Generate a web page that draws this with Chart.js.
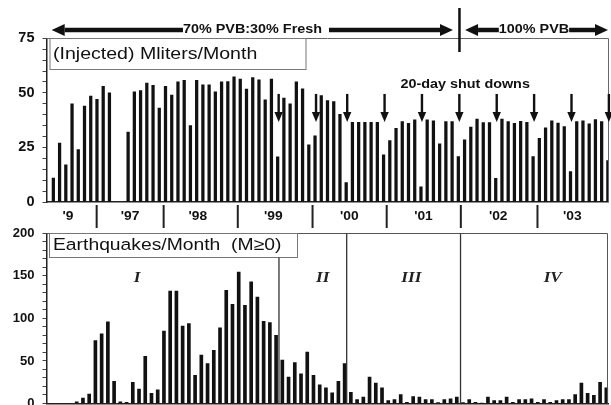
<!DOCTYPE html>
<html><head><meta charset="utf-8">
<script src="https://cdn.jsdelivr.net/npm/chart.js@4.4.0/dist/chart.umd.min.js"></script>
<style>
html,body{margin:0;padding:0;background:#fff;width:611px;height:405px;overflow:hidden;position:relative}
#top{position:absolute;left:0;top:0}
#bot{position:absolute;left:0;top:205px}
</style></head><body>
<canvas id="top" width="611" height="232"></canvas>
<canvas id="bot" width="611" height="215"></canvas>
<script>
// ---- categories: month number since start of record ----
const monthIndex = [1,2,3,4,5,6,7,8,9,10,11,12,13,14,15,16,17,18,19,20,21,22,23,24,25,26,27,28,29,30,
  31,32,33,34,35,36,37,38,39,40,41,42,43,44,45,46,47,48,49,50,51,52,53,54,55,56,57,58,59,60,
  61,62,63,64,65,66,67,68,69,70,71,72,73,74,75,76,77,78,79,80,81,82,83,84,85,86,87,88,89,90];

// ---- series: injected volume (Mliters / month) ----
const injected = [11,27,17,45,24,44,48.5,47,53,50,null,null,32,50.5,51,54.5,53.5,43,53,49,
  55,55.7,35,55.7,53.7,53.7,50.5,55,55.2,57.4,56.3,51.7,57,56,46.8,56.3,20.7,47.6,45,55,
  51.8,26.2,30.3,48.8,46.5,46,40.2,8.9,36.5,36.5,36.5,36.5,36.5,21.6,28.1,33.8,36.9,36.1,37.6,7,
  37.6,37.2,26.6,36.9,36.9,20.8,28.5,34.3,38,36.4,36.4,10.9,38,36.9,36.1,37,36.5,20.8,29.2,34,
  37.2,36.2,34.6,13.9,36.9,37.2,35.8,37.8,36.9,19];

// ---- series: earthquakes per month (M>=0) ----
const quakes = [0,0,0,0,2,6.5,11,74,82,96,26,2,1.5,25,17,55.5,12,16,85,132,
  132,91,94,33,57,47,62.5,89,133,116.5,154.5,115.5,143,125,96.5,95,80,51,31,48,
  35,60.5,33,22,18.5,12.5,26,47,13,4.5,7.5,31,24,18.5,3.5,4.5,10.5,1.5,8,7.5,
  4.5,4.5,1,4.5,5.5,7.5,1,4.5,1.5,0.5,7.5,3.5,3.5,7.5,1.5,4.5,4.5,5.5,1.5,4.5,
  1.5,3.5,4.5,4.5,10.5,24,12,9.5,25,18.5];

// ---- annotations (month units) ----
const shutdownMonths = [37,43,48,54,60,66,72,78,84,90];
const yearBoundaries = [7.95,18.7,30.6,42.6,54.5,66.4,78.7];
const yearLabels = ["'9","'97","'98","'99","'00","'01","'02","'03"];
const yearLabelPos = [3.35,13.3,24.2,36.3,48.5,60.4,72.4,84.3];
const regionBounds = [37.46,48.33,66.6];
const regionLabels = ['I','II','III','IV'];
const regionLabelPos = [14.7,44.5,58.7,81.4];

const FONT = "'Liberation Sans', Arial, Helvetica, sans-serif";
const SERIF = "'Liberation Serif', 'Times New Roman', serif";
const SX = 1.15;

function sText(ctx,t,x,y,font,align,sx){ctx.save();ctx.font=font;ctx.textBaseline='middle';ctx.textAlign=align;ctx.translate(x,y);ctx.scale(sx,1);ctx.fillText(t,0,0);ctx.restore();}
function sWidth(ctx,t,font,sx){ctx.save();ctx.font=font;const w=ctx.measureText(t).width*sx;ctx.restore();return w;}
function hArrow(ctx,x0,x1,y,th,hl,hw){
  const dir=Math.sign(x1-x0); const xb=x1-dir*hl;
  ctx.fillRect(Math.min(x0,xb),y-th/2,Math.abs(xb-x0),th);
  ctx.beginPath();ctx.moveTo(x1,y);ctx.lineTo(xb,y-hw/2);ctx.lineTo(xb,y+hw/2);ctx.closePath();ctx.fill();
}

const topPlugin = {id:'topAnno', afterDraw(chart){
  const {ctx, chartArea:a, scales:{x:xs,y:ys}} = chart;
  const X = v=>xs.getPixelForValue(v);
  ctx.save();
  ctx.strokeStyle='#666'; ctx.lineWidth=1;
  ctx.beginPath(); ctx.moveTo(a.left,Math.round(a.top)+0.5); ctx.lineTo(a.right,Math.round(a.top)+0.5);
  ctx.lineTo(a.right,a.bottom); ctx.stroke();
  const bx=a.left+3.5, by=Math.round(a.top)+0.5;
  ctx.fillStyle='#fff'; ctx.fillRect(bx,by,256,31);
  ctx.strokeStyle='#777'; ctx.strokeRect(bx,by,256,31);
  ctx.fillStyle='#111';
  sText(ctx,'(Injected) Mliters/Month',bx+3,by+15.5,'17px '+FONT,'left',SX);
  const hf='bold 12.5px '+FONT, hy=30;
  const t1='70% PVB:30% Fresh', c1=X(32.96), w1=sWidth(ctx,t1,hf,SX);
  sText(ctx,t1,c1,hy-0.5,hf,'center',SX);
  hArrow(ctx,c1-w1/2,X(0.73),hy,4.5,13,12);
  hArrow(ctx,c1+w1/2+7,X(65.14),hy,4.5,13,12);
  ctx.fillRect(X(66.18)-1.25,8,2.5,44);
  const t2='100% PVB', c2=X(78.14), w2=sWidth(ctx,t2,hf,SX);
  sText(ctx,t2,c2,hy-0.5,hf,'center',SX);
  hArrow(ctx,c2-w2/2,X(67.08),hy,4.5,13,12);
  hArrow(ctx,c2+w2/2,X(90.02),hy,4.5,13,12);
  sText(ctx,'20-day shut downs',X(67.1),84.5,hf,'center',SX);
  const yT=ys.getPixelForValue(49.5), yB=ys.getPixelForValue(36.6);
  shutdownMonths.forEach(m=>{
    const x=X(m)+1;
    ctx.fillRect(x-1.2,yT,2.4,yB-10-yT+0.5);
    ctx.beginPath();ctx.moveTo(x-4.2,yB-10);ctx.lineTo(x+4.2,yB-10);ctx.lineTo(x,yB);ctx.closePath();ctx.fill();
  });
  ctx.fillStyle='#222';
  yearBoundaries.forEach(b=>{ctx.fillRect(X(b)-1,205,2,23);});
  ctx.fillStyle='#111';
  yearLabels.forEach((t,i)=>sText(ctx,t,X(yearLabelPos[i]),217,'bold 12px '+FONT,'center',SX));
  ctx.restore();
}};

const botPlugin = {id:'botAnno', afterDraw(chart){
  const {ctx, chartArea:a, scales:{x:xs,y:ys}} = chart;
  const X = v=>xs.getPixelForValue(v);
  ctx.save();
  ctx.strokeStyle='#555'; ctx.lineWidth=1;
  const ty=Math.round(a.top)+0.5;
  ctx.beginPath(); ctx.moveTo(a.left,ty); ctx.lineTo(a.right-1,ty); ctx.lineTo(a.right-1,a.bottom); ctx.stroke();
  const bx=a.left+3, bh=24;
  ctx.fillStyle='#fff'; ctx.fillRect(bx,ty,248,bh);
  ctx.strokeStyle='#777'; ctx.strokeRect(bx,ty,248,bh);
  ctx.fillStyle='#111';
  sText(ctx,'Earthquakes/Month  (M\u22650)',bx+3.5,ty+bh/2,'16.8px '+FONT,'left',SX);
  ctx.strokeStyle='#333'; ctx.lineWidth=1.3;
  regionBounds.forEach((b,i)=>{
    const x=X(b); ctx.beginPath(); ctx.moveTo(x,i===0?ty+bh:ty); ctx.lineTo(x,a.bottom); ctx.stroke();
  });
  ctx.fillStyle='#222';
  const ry=ys.getPixelForValue(147);
  regionLabels.forEach((t,i)=>sText(ctx,t,X(regionLabelPos[i]),ry,'italic bold 15px '+SERIF,'center',SX));
  ctx.restore();
}};

function cfg(data, xmin, xmax, ymax, step, major, labelSize, pad, thick, plugin, xh){
  return {
    type:'bar',
    data:{datasets:[{data:monthIndex.map((m,i)=>({x:m,y:data[i]})),backgroundColor:'#111',borderWidth:0,barThickness:thick}]},
    options:{
      responsive:false, animation:false, devicePixelRatio:1,
      layout:{padding:pad},
      plugins:{legend:{display:false},tooltip:{enabled:false}},
      scales:{
        x:{type:'linear',min:xmin,max:xmax,offset:false,grid:{display:false},
           border:{display:true,color:'#222',width:1.5},ticks:{display:false},
           afterFit(s){s.height=xh;}},
        y:{min:0,max:ymax,
           ticks:{stepSize:step,autoSkip:false,color:'#111',padding:8,
             font:{family:FONT,size:labelSize,weight:'bold'},
             callback:v=>(v%major===0)?String(v):''},
           grid:{display:true,drawOnChartArea:false,drawTicks:true,tickLength:4,color:'#444'},
           border:{display:true,color:'#222',width:1.5},
           afterFit(s){s.width=46.5;}}
      }
    },
    plugins:[plugin]
  };
}

new Chart(document.getElementById('top'),
  cfg(injected,-0.1,90.1,75,5,25,14.5,{left:0,right:2.5,top:38.3,bottom:0},2.6,topPlugin,30));
new Chart(document.getElementById('bot'),
  cfg(quakes,0.15,90.35,200,10,50,13,{left:0,right:2.5,top:28.3,bottom:16.5},3,botPlugin,0));
</script>
</body></html>
